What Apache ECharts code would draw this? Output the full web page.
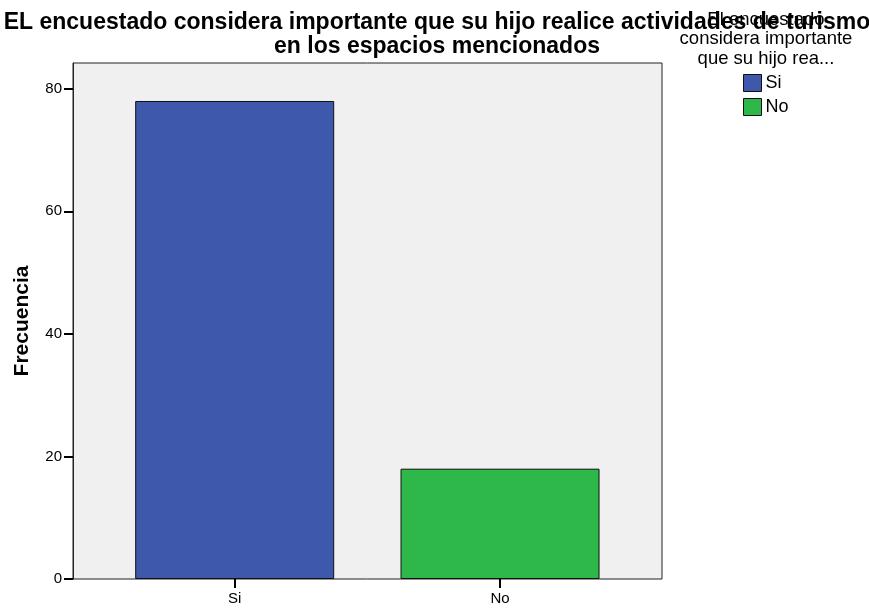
<!DOCTYPE html>
<html><head><meta charset="utf-8">
<script src="https://cdn.jsdelivr.net/npm/echarts@6/dist/echarts.min.js"></script>
<style>html,body{margin:0;padding:0;background:#fff}#c{width:869px;height:608px}</style>
</head><body><div id="c"></div>
<script>
const categories = ['Si', 'No'];
const seriesNames = ['Si', 'No'];
const valuesSi = [78, null];
const valuesNo = [null, 18];
const yTicks = [0, 20, 40, 60, 80];
const yMax = 84.2;
const titleText = 'EL encuestado considera importante que su hijo realice actividades de turismo\nen los espacios mencionados';
const legendTitle = 'El encuestado\nconsidera importante\nque su hijo rea...';
const yName = 'Frecuencia';

const chart = echarts.init(document.getElementById('c'), null, {renderer: 'canvas'});
const font = 'Liberation Sans, Arial, sans-serif';
chart.setOption({
  animation: false,
  textStyle: {fontFamily: font},
  title: [
    {text: legendTitle, left: 766, top: 10, textAlign: 'center', padding: 0,
     textStyle: {fontSize: 18.5, fontWeight: 'normal', color: '#000', lineHeight: 19.5, fontFamily: font}},
    {text: titleText, left: 437, top: 11, textAlign: 'center', padding: 0,
     textStyle: {fontSize: 23, fontWeight: 'bold', color: '#000', lineHeight: 24, fontFamily: font}}
  ],
  legend: {
    orient: 'vertical', left: 743, top: 74, itemWidth: 18, itemHeight: 17, itemGap: 6, padding: 0,
    data: seriesNames, icon: 'rect',
    textStyle: {fontSize: 18, color: '#000', fontFamily: font, padding: [0,0,0,-1]},
    itemStyle: {borderColor: '#111', borderWidth: 1}
  },
  grid: [
    {left: 73, right: 207, top: 63, bottom: 29, show: true, backgroundColor: '#F0F0F0', borderColor: '#222', borderWidth: 1},
    {left: 102, right: 236.3, top: 63, bottom: 29}
  ],
  xAxis: [
    {type: 'category', gridIndex: 0, data: categories, show: false},
    {type: 'category', gridIndex: 1, data: categories, boundaryGap: true,
     axisLine: {show: false},
     axisTick: {show: true, alignWithLabel: true, length: 9, lineStyle: {color: '#000', width: 2}},
     axisLabel: {fontSize: 15, color: '#000', margin: 12, fontFamily: font}}
  ],
  yAxis: [
    {type: 'value', gridIndex: 0, min: 0, max: yMax, interval: 20,
     name: yName, nameLocation: 'middle', nameGap: 40, nameRotate: 90,
     nameTextStyle: {fontSize: 21, fontWeight: 'bold', color: '#000', fontFamily: font},
     axisLine: {show: true, lineStyle: {color: '#222', width: 1}},
     axisTick: {show: true, length: 9, lineStyle: {color: '#000', width: 2}, customValues: yTicks},
     axisLabel: {fontSize: 15, color: '#000', margin: 11, fontFamily: font, customValues: yTicks},
     splitLine: {show: false}},
    {type: 'value', gridIndex: 1, min: 0, max: yMax, show: false, splitLine: {show: false}}
  ],
  series: [
    {name: seriesNames[0], type: 'bar', xAxisIndex: 1, yAxisIndex: 1, data: valuesSi, barWidth: 199, barGap: '-100%',
     itemStyle: {color: '#3E58AC', borderColor: '#111', borderWidth: 1}},
    {name: seriesNames[1], type: 'bar', xAxisIndex: 1, yAxisIndex: 1, data: valuesNo, barWidth: 199, barGap: '-100%',
     itemStyle: {color: '#2EB84A', borderColor: '#111', borderWidth: 1}}
  ]
});
</script></body></html>
